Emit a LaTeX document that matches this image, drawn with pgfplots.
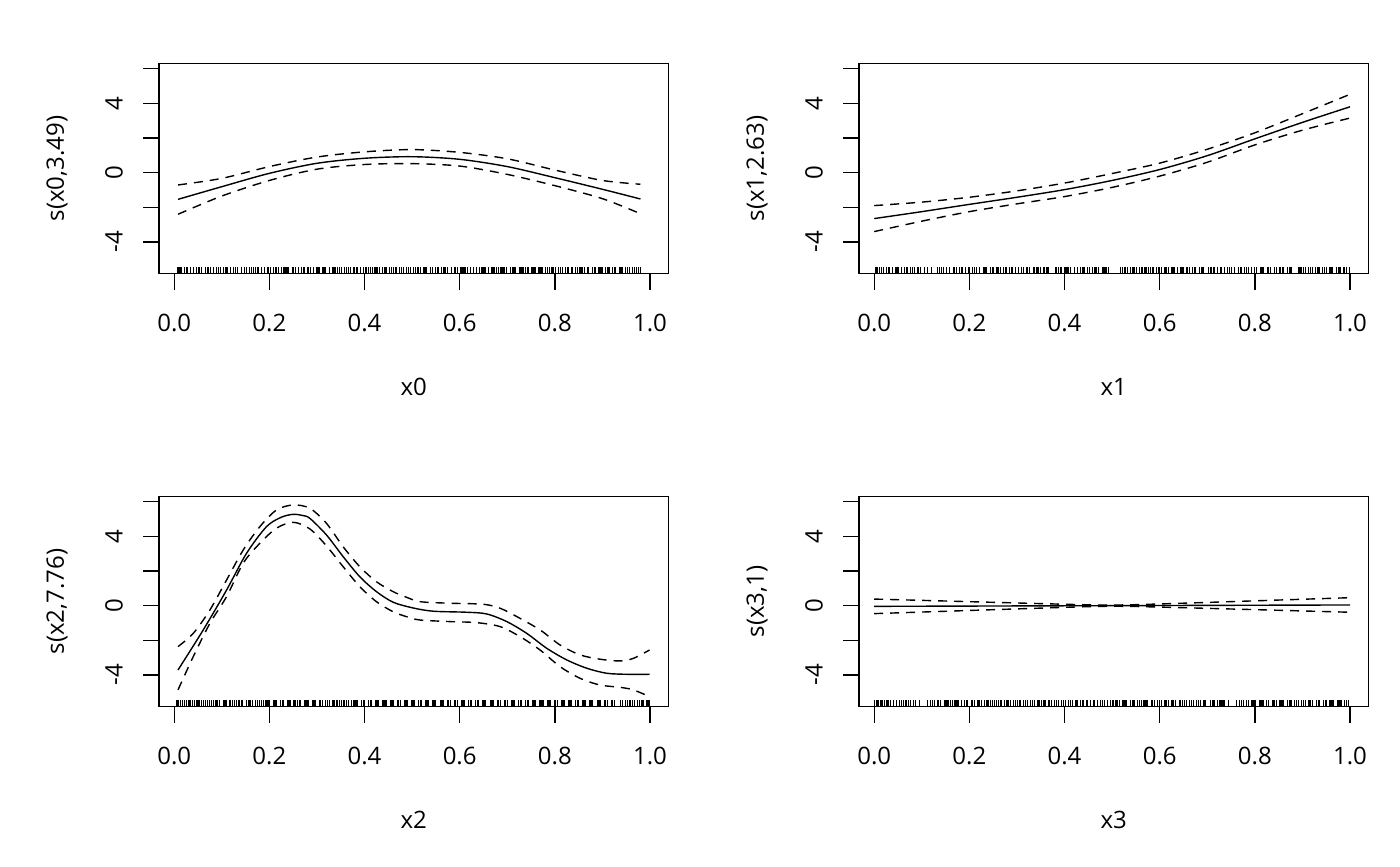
\documentclass[border=0pt]{standalone}
\usepackage{fontspec}
\setmainfont{Open Sans}
\usepackage{pgfplots}
\usepackage{pgfplotstable}
\pgfplotsset{compat=1.18}

% ---- fitted smooths (x, fit) and bands ----
\pgfplotstableread{
x fit up lo
0.008 -1.54 -0.71 -2.40
0.10 -0.81 -0.33 -1.35
0.20 -0.04 0.35 -0.45
0.30 0.54 0.90 0.20
0.40 0.83 1.20 0.47
0.50 0.92 1.33 0.52
0.60 0.77 1.17 0.38
0.70 0.35 0.80 -0.10
0.80 -0.29 0.15 -0.75
0.90 -0.96 -0.45 -1.50
0.98 -1.52 -0.67 -2.37
}\smA
\pgfplotstableread{
x fit up lo
0.00 -2.65 -1.90 -3.40
0.10 -2.25 -1.70 -2.80
0.20 -1.83 -1.42 -2.25
0.30 -1.42 -1.05 -1.80
0.40 -0.98 -0.60 -1.38
0.50 -0.45 -0.05 -0.85
0.60 0.18 0.55 -0.20
0.70 0.98 1.35 0.60
0.80 1.95 2.30 1.60
0.90 2.90 3.40 2.45
1.00 3.80 4.52 3.15
}\smB
\pgfplotstableread{
x fit
0.008 -3.71
0.061 -1.40
0.110 0.90
0.152 3.02
0.194 4.56
0.225 5.10
0.250 5.27
0.270 5.20
0.285 5.04
0.320 4.08
0.355 2.83
0.390 1.67
0.425 0.81
0.460 0.20
0.500 -0.12
0.544 -0.32
0.615 -0.38
0.657 -0.48
0.699 -0.92
0.741 -1.60
0.783 -2.46
0.825 -3.13
0.867 -3.61
0.909 -3.90
0.951 -3.96
0.999 -3.96
}\smCfit
\pgfplotstableread{
x up
0.008 -2.36
0.040 -1.60
0.075 -0.25
0.110 1.48
0.145 3.21
0.180 4.56
0.215 5.52
0.250 5.81
0.285 5.62
0.320 4.75
0.355 3.40
0.390 2.25
0.425 1.38
0.460 0.81
0.485 0.52
0.517 0.23
0.580 0.14
0.650 0.08
0.685 -0.15
0.720 -0.63
0.769 -1.40
0.811 -2.27
0.853 -2.84
0.895 -3.09
0.937 -3.19
0.965 -3.04
0.999 -2.56
}\smCup
\pgfplotstableread{
x lo
0.008 -4.86
0.040 -2.94
0.075 -1.02
0.110 0.52
0.145 2.45
0.180 3.60
0.215 4.47
0.250 4.81
0.285 4.43
0.320 3.45
0.355 2.25
0.390 1.10
0.425 0.23
0.460 -0.35
0.490 -0.65
0.517 -0.83
0.580 -0.92
0.636 -0.98
0.685 -1.21
0.727 -1.79
0.769 -2.56
0.811 -3.52
0.853 -4.19
0.895 -4.58
0.937 -4.71
0.965 -4.86
0.999 -5.25
}\smClo
\pgfplotstableread{
x fit up lo
0.00 -0.040 0.380 -0.460
0.10 -0.032 0.305 -0.369
0.20 -0.024 0.230 -0.278
0.30 -0.016 0.155 -0.187
0.40 -0.008 0.081 -0.097
0.45 -0.004 0.048 -0.056
0.50 0.000 0.030 -0.030
0.55 0.004 0.056 -0.048
0.60 0.008 0.097 -0.081
0.70 0.016 0.187 -0.155
0.80 0.024 0.278 -0.230
0.90 0.032 0.369 -0.305
1.00 0.040 0.460 -0.380
}\smD

% ---- rug values (observed covariate values) ----
\pgfplotstableread[row sep=\\,header=false]{0.008\\0.015\\0.021\\0.034\\0.041\\0.047\\0.052\\0.066\\0.071\\0.083\\0.089\\0.097\\0.103\\0.111\\0.118\\0.124\\0.129\\0.141\\0.147\\0.152\\0.163\\0.171\\0.176\\0.184\\0.197\\0.203\\0.214\\0.219\\0.226\\0.233\\0.241\\0.248\\0.255\\0.262\\0.268\\0.274\\0.281\\0.293\\0.299\\0.306\\0.312\\0.318\\0.327\\0.333\\0.339\\0.344\\0.352\\0.358\\0.366\\0.371\\0.378\\0.391\\0.397\\0.403\\0.409\\0.416\\0.422\\0.431\\0.437\\0.443\\0.456\\0.461\\0.468\\0.474\\0.482\\0.489\\0.496\\0.503\\0.511\\0.518\\0.524\\0.531\\0.538\\0.549\\0.556\\0.561\\0.567\\0.574\\0.583\\0.589\\0.596\\0.602\\0.609\\0.617\\0.623\\0.629\\0.641\\0.647\\0.654\\0.661\\0.668\\0.672\\0.681\\0.687\\0.694\\0.706\\0.711\\0.718\\0.726\\0.733\\0.738\\0.745\\0.752\\0.759\\0.766\\0.773\\0.781\\0.788\\0.794\\0.801\\0.808\\0.816\\0.823\\0.829\\0.836\\0.843\\0.851\\0.858\\0.863\\0.871\\0.879\\0.886\\0.893\\0.901\\0.907\\0.914\\0.922\\0.928\\0.936\\0.942\\0.949\\0.957\\0.963\\0.971\\0.980\\0.012\\0.027\\0.058\\0.077\\0.093\\0.107\\0.133\\0.158\\0.167\\0.189\\0.208\\0.229\\0.237\\0.251\\0.271\\0.286\\0.302\\0.315\\0.336\\0.348\\0.362\\0.384\\0.412\\0.426\\0.447\\0.452\\0.465\\0.478\\0.493\\0.507\\0.514\\0.527\\0.543\\0.553\\0.571\\0.592\\0.605\\0.613\\0.636\\0.651\\0.677\\0.691\\0.699\\0.714\\0.729\\0.742\\0.756\\0.769\\0.785\\0.797\\0.812\\0.826\\0.847\\0.855\\0.868\\0.883\\0.897\\0.911\\0.925\\0.939\\0.953\\0.967\\0.976\\}\rugA
\pgfplotstableread[row sep=\\,header=false]{0.002\\0.011\\0.019\\0.026\\0.038\\0.044\\0.051\\0.058\\0.063\\0.077\\0.085\\0.092\\0.106\\0.121\\0.133\\0.138\\0.145\\0.158\\0.166\\0.173\\0.179\\0.186\\0.191\\0.207\\0.215\\0.222\\0.229\\0.236\\0.244\\0.251\\0.258\\0.266\\0.277\\0.284\\0.291\\0.297\\0.303\\0.314\\0.321\\0.336\\0.342\\0.349\\0.357\\0.363\\0.382\\0.388\\0.394\\0.401\\0.408\\0.413\\0.427\\0.434\\0.441\\0.449\\0.458\\0.464\\0.471\\0.479\\0.487\\0.493\\0.518\\0.527\\0.533\\0.539\\0.546\\0.552\\0.558\\0.563\\0.569\\0.576\\0.581\\0.587\\0.593\\0.599\\0.604\\0.611\\0.618\\0.624\\0.631\\0.637\\0.643\\0.649\\0.656\\0.663\\0.669\\0.676\\0.684\\0.691\\0.702\\0.709\\0.716\\0.722\\0.736\\0.743\\0.751\\0.758\\0.771\\0.778\\0.786\\0.793\\0.799\\0.812\\0.818\\0.826\\0.833\\0.846\\0.853\\0.861\\0.869\\0.876\\0.891\\0.898\\0.906\\0.913\\0.921\\0.928\\0.935\\0.943\\0.951\\0.958\\0.964\\0.972\\0.979\\0.986\\0.993\\0.999\\0.006\\0.015\\0.031\\0.048\\0.069\\0.081\\0.097\\0.112\\0.141\\0.152\\0.169\\0.183\\0.199\\0.211\\0.233\\0.248\\0.262\\0.271\\0.288\\0.309\\0.327\\0.345\\0.367\\0.391\\0.405\\0.421\\0.437\\0.453\\0.468\\0.483\\0.522\\0.542\\0.561\\0.573\\0.585\\0.597\\0.614\\0.628\\0.646\\0.659\\0.673\\0.688\\0.706\\0.713\\0.729\\0.747\\0.765\\0.782\\0.803\\0.815\\0.829\\0.841\\0.858\\0.872\\0.895\\0.903\\0.917\\0.932\\0.947\\0.961\\0.976\\0.989\\}\rugB
\pgfplotstableread[row sep=\\,header=false]{0.006\\0.013\\0.017\\0.026\\0.031\\0.039\\0.043\\0.048\\0.057\\0.062\\0.070\\0.074\\0.082\\0.088\\0.095\\0.103\\0.109\\0.117\\0.122\\0.131\\0.136\\0.144\\0.152\\0.157\\0.165\\0.171\\0.179\\0.187\\0.193\\0.201\\0.209\\0.215\\0.224\\0.230\\0.239\\0.245\\0.254\\0.259\\0.266\\0.275\\0.281\\0.290\\0.296\\0.305\\0.311\\0.318\\0.327\\0.333\\0.342\\0.347\\0.357\\0.362\\0.372\\0.378\\0.385\\0.394\\0.400\\0.409\\0.415\\0.424\\0.430\\0.439\\0.445\\0.454\\0.460\\0.469\\0.475\\0.484\\0.490\\0.499\\0.505\\0.514\\0.520\\0.529\\0.535\\0.544\\0.550\\0.559\\0.565\\0.574\\0.580\\0.589\\0.595\\0.604\\0.610\\0.619\\0.625\\0.634\\0.640\\0.649\\0.655\\0.664\\0.670\\0.679\\0.685\\0.694\\0.700\\0.709\\0.715\\0.724\\0.730\\0.739\\0.745\\0.754\\0.760\\0.769\\0.775\\0.784\\0.790\\0.799\\0.805\\0.814\\0.820\\0.829\\0.835\\0.844\\0.850\\0.859\\0.865\\0.874\\0.880\\0.889\\0.895\\0.904\\0.910\\0.919\\0.925\\0.943\\0.948\\0.958\\0.963\\0.973\\0.978\\0.987\\0.992\\0.999\\0.009\\0.021\\0.035\\0.052\\0.066\\0.078\\0.091\\0.106\\0.119\\0.127\\0.141\\0.161\\0.175\\0.183\\0.197\\0.212\\0.227\\0.242\\0.251\\0.263\\0.278\\0.293\\0.308\\0.322\\0.336\\0.351\\0.366\\0.382\\0.397\\0.412\\0.427\\0.442\\0.457\\0.472\\0.487\\0.502\\0.517\\0.532\\0.547\\0.562\\0.577\\0.592\\0.607\\0.622\\0.637\\0.652\\0.667\\0.682\\0.697\\0.712\\0.727\\0.742\\0.757\\0.772\\0.787\\0.802\\0.817\\0.832\\0.847\\0.862\\0.877\\0.892\\0.907\\0.922\\0.938\\0.953\\0.968\\0.983\\0.996\\}\rugC
\pgfplotstableread[row sep=\\,header=false]{0.001\\0.008\\0.014\\0.022\\0.029\\0.035\\0.047\\0.053\\0.061\\0.068\\0.076\\0.083\\0.095\\0.112\\0.119\\0.127\\0.134\\0.148\\0.155\\0.161\\0.169\\0.176\\0.183\\0.189\\0.204\\0.211\\0.218\\0.226\\0.232\\0.239\\0.245\\0.252\\0.261\\0.268\\0.273\\0.279\\0.286\\0.292\\0.301\\0.308\\0.314\\0.322\\0.329\\0.337\\0.344\\0.351\\0.359\\0.366\\0.372\\0.379\\0.387\\0.394\\0.402\\0.409\\0.417\\0.424\\0.433\\0.440\\0.447\\0.455\\0.462\\0.469\\0.476\\0.484\\0.491\\0.497\\0.508\\0.516\\0.523\\0.531\\0.538\\0.546\\0.553\\0.561\\0.567\\0.574\\0.582\\0.589\\0.596\\0.604\\0.611\\0.619\\0.626\\0.634\\0.641\\0.648\\0.656\\0.663\\0.671\\0.678\\0.686\\0.693\\0.707\\0.714\\0.722\\0.729\\0.737\\0.744\\0.761\\0.768\\0.776\\0.787\\0.794\\0.802\\0.809\\0.817\\0.824\\0.838\\0.845\\0.853\\0.861\\0.868\\0.876\\0.883\\0.891\\0.898\\0.907\\0.914\\0.921\\0.929\\0.936\\0.944\\0.951\\0.958\\0.966\\0.973\\0.981\\0.988\\0.996\\0.004\\0.018\\0.025\\0.041\\0.057\\0.065\\0.072\\0.087\\0.123\\0.139\\0.151\\0.165\\0.172\\0.195\\0.207\\0.221\\0.236\\0.249\\0.257\\0.265\\0.283\\0.297\\0.305\\0.318\\0.333\\0.348\\0.355\\0.369\\0.383\\0.398\\0.413\\0.428\\0.437\\0.479\\0.502\\0.512\\0.527\\0.542\\0.557\\0.571\\0.585\\0.599\\0.615\\0.629\\0.644\\0.652\\0.667\\0.682\\0.697\\0.711\\0.726\\0.733\\0.772\\0.782\\0.798\\0.813\\0.828\\0.842\\0.857\\0.872\\0.887\\0.902\\0.917\\0.933\\0.948\\0.962\\0.977\\0.992\\}\rugD

\pgfplotsset{
  gam/.style={
    scale only axis, width=254.65pt, height=105.2pt,
    anchor=south west, clip mode=individual,
    xmin=-0.032, xmax=1.0385, ymin=-5.83, ymax=6.31,
    axis line style={line width=0.7pt, black},
    every tick/.style={black, line width=0.7pt},
    tick align=outside, tick pos=left, major tick length=8pt,
    xtick={0,0.2,0.4,0.6,0.8,1}, xticklabels={0.0,0.2,0.4,0.6,0.8,1.0},
    ytick={-4,-2,0,2,4,6}, yticklabels={-4,,0,,4,},
    xticklabel style={anchor=center}, xticklabel shift=16.8pt,
    yticklabel style={anchor=center, rotate=90}, yticklabel shift=14.5pt,
    /pgf/number format/assume math mode=true,
  },
  fitline/.style={black, line width=0.7pt, smooth, no marks},
  bandline/.style={black, line width=0.7pt, smooth, no marks, dash pattern=on 4.5pt off 3.5pt},
  rugline/.style={black, line width=0.6pt, only marks, mark=|, mark size=1.625pt},
}

\begin{document}
\begin{tikzpicture}[font=\fontsize{12}{14.4}\selectfont]
\path[use as bounding box] (0,0) rectangle (700pt,433pt);

% panel 1
\begin{axis}[gam, at={(79.5pt,296.15pt)}]
\addplot[rugline] table[x index=0, y index=0, y expr=-5.6425]{\rugA};
\addplot[fitline] table[x=x, y=fit]{\smA};
\addplot[bandline] table[x=x, y=up]{\smA};
\addplot[bandline] table[x=x, y=lo]{\smA};
\node at ([yshift=-56.6pt]axis description cs:0.5,0) {x0};
\node[rotate=90] at ([xshift=-51pt]axis description cs:0,0.5) {s(x0,3.49)};
\end{axis}

% panel 2
\begin{axis}[gam, at={(429.5pt,296.15pt)}]
\addplot[rugline] table[x index=0, y index=0, y expr=-5.6425]{\rugB};
\addplot[fitline] table[x=x, y=fit]{\smB};
\addplot[bandline] table[x=x, y=up]{\smB};
\addplot[bandline] table[x=x, y=lo]{\smB};
\node at ([yshift=-56.6pt]axis description cs:0.5,0) {x1};
\node[rotate=90] at ([xshift=-51pt]axis description cs:0,0.5) {s(x1,2.63)};
\end{axis}

% panel 3
\begin{axis}[gam, at={(79.5pt,79.65pt)}]
\addplot[rugline] table[x index=0, y index=0, y expr=-5.6425]{\rugC};
\addplot[fitline] table[x=x, y=fit]{\smCfit};
\addplot[bandline] table[x=x, y=up]{\smCup};
\addplot[bandline] table[x=x, y=lo]{\smClo};
\node at ([yshift=-56.6pt]axis description cs:0.5,0) {x2};
\node[rotate=90] at ([xshift=-51pt]axis description cs:0,0.5) {s(x2,7.76)};
\end{axis}

% panel 4
\begin{axis}[gam, at={(429.5pt,79.65pt)}]
\addplot[rugline] table[x index=0, y index=0, y expr=-5.6425]{\rugD};
\addplot[black, line width=0.7pt, no marks] table[x=x, y=fit]{\smD};
\addplot[black, line width=0.7pt, no marks, dash pattern=on 4.5pt off 3.5pt] table[x=x, y=up]{\smD};
\addplot[black, line width=0.7pt, no marks, dash pattern=on 4.5pt off 3.5pt] table[x=x, y=lo]{\smD};
\node at ([yshift=-56.6pt]axis description cs:0.5,0) {x3};
\node[rotate=90] at ([xshift=-51pt]axis description cs:0,0.5) {s(x3,1)};
\end{axis}
\end{tikzpicture}
\end{document}
